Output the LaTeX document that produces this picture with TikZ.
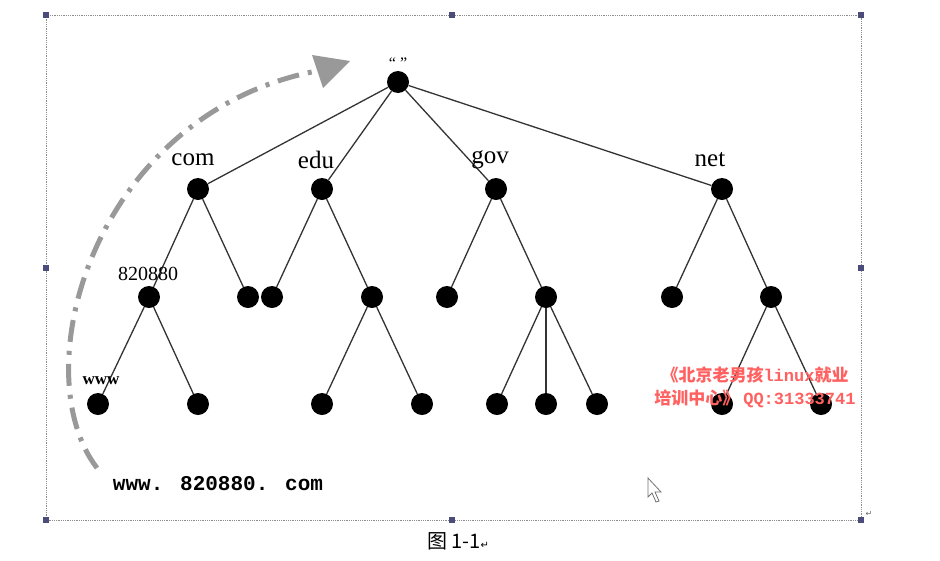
\documentclass[tikz,border=0pt]{standalone}
\usepackage{fontspec}
\setmainfont{Liberation Serif}
\newfontfamily\cjk{Noto Sans CJK SC}
\newfontfamily\monof{Liberation Mono}
\newfontfamily\dvs{DejaVu Sans}
\begin{document}
\begin{tikzpicture}[x=1pt,y=-1pt,
  dot/.style={circle,fill=black,inner sep=0pt,minimum size=22pt},
  edge/.style={draw=black!80,line width=1.3pt},
  lbl/.style={font=\fontsize{25}{25}\selectfont,inner sep=0pt},
  handle/.style={fill=black!55!blue!40!gray,draw=none,minimum size=6pt,inner sep=0pt},
  redtxt/.style={text=red!62,font=\cjk\bfseries\fontsize{17}{17}\selectfont,inner sep=0pt}]
\useasboundingbox (0,0) rectangle (940,560);
\fill[white] (0,0) rectangle (940,560);
% frame
\draw[black!45,densely dotted,line width=0.8pt] (46,15) rectangle (861,520);
\foreach \p/\n in {{(46,15)}/h1,{(452,15)}/h2,{(861,15)}/h3,{(46,268)}/h4,{(861,268)}/h5,{(46,520)}/h6,{(452,520)}/h7,{(861,520)}/h8}
  \node[handle] (\n) at \p {};
% nodes
\node[dot] (r) at (398,82) {};
\node[dot] (com) at (198,189) {};
\node[dot] (edu) at (322,189) {};
\node[dot] (gov) at (496,189) {};
\node[dot] (net) at (722,189) {};
\node[dot] (c1) at (149,297) {};
\node[dot] (c2) at (248,297) {};
\node[dot] (e1) at (272,297) {};
\node[dot] (e2) at (372,297) {};
\node[dot] (g1) at (447,297) {};
\node[dot] (g2) at (546,297) {};
\node[dot] (n1) at (672,297) {};
\node[dot] (n2) at (771,297) {};
\node[dot] (c11) at (98,404) {};
\node[dot] (c12) at (198,404) {};
\node[dot] (e21) at (322,404) {};
\node[dot] (e22) at (422,404) {};
\node[dot] (g21) at (497,404) {};
\node[dot] (g22) at (546,404) {};
\node[dot] (g23) at (597,404) {};
\node[dot] (n21) at (722,404) {};
\node[dot] (n22) at (821,404) {};
% edges
\foreach \a/\b in {r/com,r/edu,r/gov,r/net,com/c1,com/c2,edu/e1,edu/e2,gov/g1,gov/g2,net/n1,net/n2,c1/c11,c1/c12,e2/e21,e2/e22,g2/g21,g2/g22,g2/g23,n2/n21,n2/n22}
  \path[edge] (\a) -- (\b);
% labels
\node[lbl,font=\fontsize{16}{16}\selectfont] (rl) at (398,63) {“ ”};
\node[lbl] (lcom) at (193,160) {com};
\node[lbl] (ledu) at (316,160) {edu};
\node[lbl] (lgov) at (490,160) {gov};
\node[lbl] (lnet) at (710,160) {net};
\node[lbl,font=\fontsize{20}{20}\selectfont] (l820) at (148,274) {820880};
\node[lbl,font=\bfseries\fontsize{17}{17}\selectfont] (lwww) at (101,381) {www};
\node[lbl,font=\monof\bfseries\fontsize{21}{21}\selectfont] (url) at (218,484) {www. 820880. com};
% red watermark
\node[redtxt] (w1) at (755,375) {《北京老男孩{\monof linux}就业};
\node[redtxt] (w2) at (755,399) {培训中心》 {\monof QQ:31333741}};
% dash-dot arc arrow
\coordinate (as) at (97,468);
\coordinate (ae) at (322,70);
\draw[black!40,line width=5pt,dash pattern=on 22pt off 9pt on 4pt off 9pt] (as) .. controls (22,370) and (95,110) .. (ae);
\fill[black!40] (312,55) -- (350,61) -- (323,88) -- cycle;
% cursor
\draw[black!55,line width=0.8pt,fill=white] (648,478) -- (648,497) -- (652,493) -- (656,502) -- (659,501) -- (655,492) -- (661,492) -- cycle;
% caption
\node[inner sep=0pt,font=\cjk\fontsize{20}{20}\selectfont] (cap) at (458,541) {图 1-1{\dvs\fontsize{10}{10}\selectfont ↵}};
\node[inner sep=0pt,font=\dvs\fontsize{8}{8}\selectfont,text=black!60] (ret) at (869,514) {↵};
\end{tikzpicture}
\end{document}
